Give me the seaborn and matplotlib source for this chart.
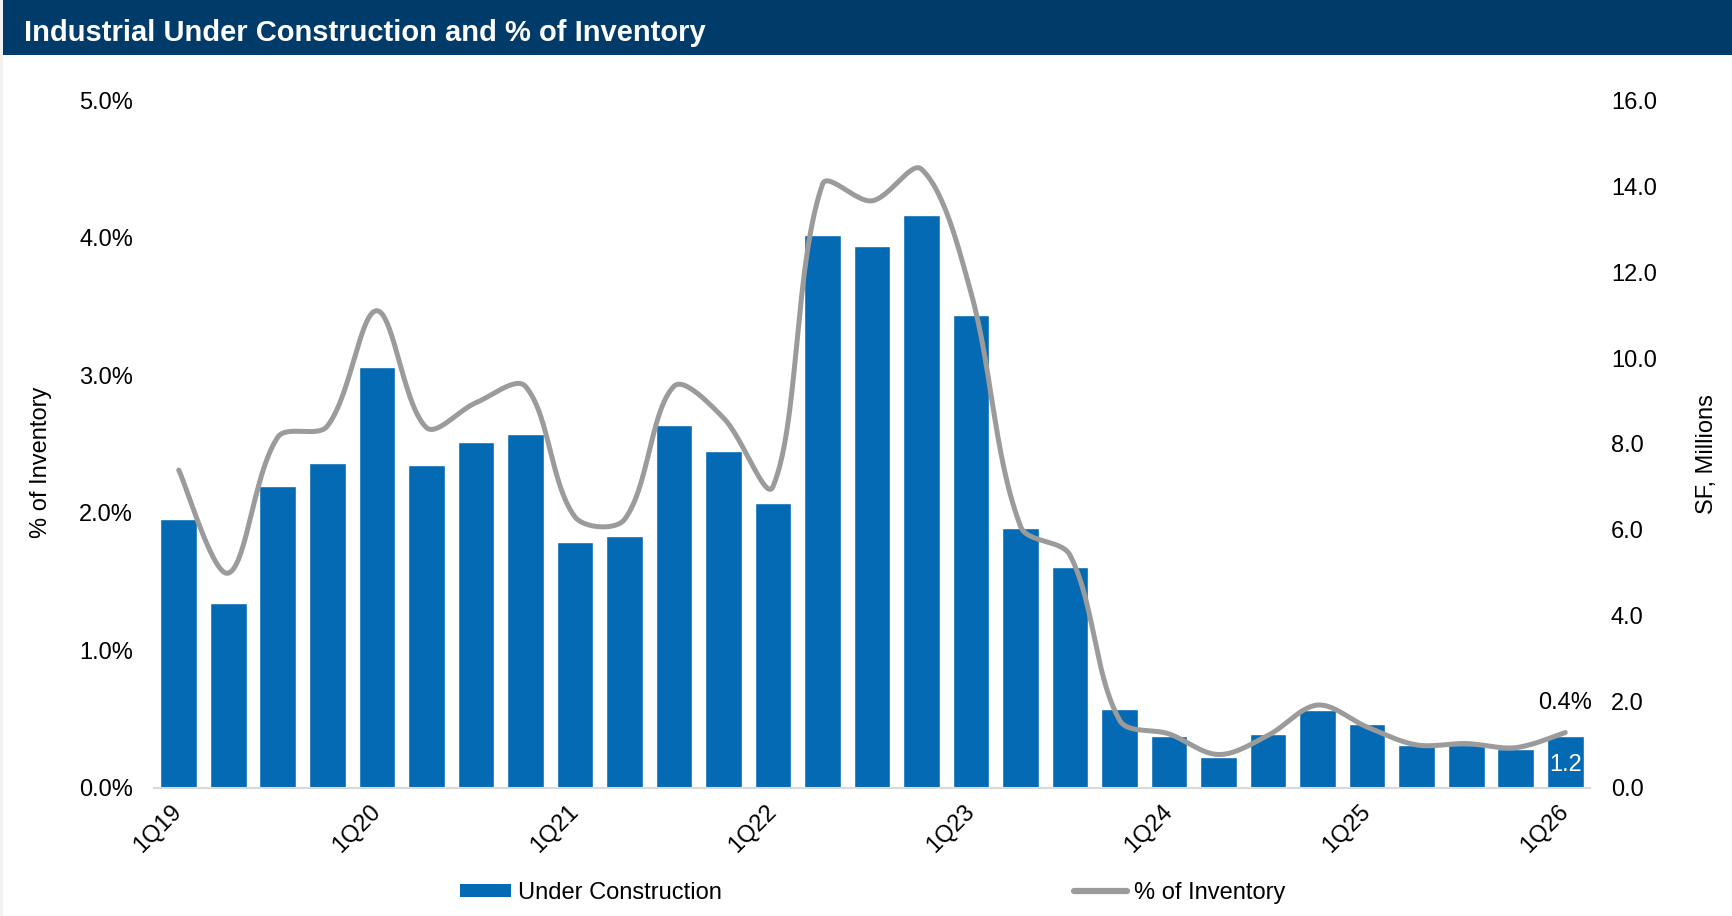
import numpy as np
import pandas as pd
import matplotlib
matplotlib.use("Agg")
import matplotlib.pyplot as plt
from matplotlib.patches import Rectangle, Patch
from matplotlib.lines import Line2D
from matplotlib.ticker import FuncFormatter
import seaborn as sns

# ---- data -------------------------------------------------------------
quarters = [
    "1Q19", "2Q19", "3Q19", "4Q19",
    "1Q20", "2Q20", "3Q20", "4Q20",
    "1Q21", "2Q21", "3Q21", "4Q21",
    "1Q22", "2Q22", "3Q22", "4Q22",
    "1Q23", "2Q23", "3Q23", "4Q23",
    "1Q24", "2Q24", "3Q24", "4Q24",
    "1Q25", "2Q25", "3Q25", "4Q25",
    "1Q26",
]
# square feet under construction, millions
under_construction_msf = [
    6.26, 4.30, 7.03, 7.56,
    9.80, 7.52, 8.05, 8.24,
    5.72, 5.86, 8.45, 7.84,
    6.63, 12.86, 12.62, 13.34,
    11.01, 6.05, 5.14, 1.83,
    1.20, 0.71, 1.25, 1.81,
    1.48, 0.99, 0.99, 0.90,
    1.20,
]
# under construction as a share of total inventory, %
pct_of_inventory = [
    2.31, 1.56, 2.55, 2.63,
    3.47, 2.62, 2.80, 2.92,
    1.97, 1.95, 2.92, 2.69,
    2.19, 4.39, 4.27, 4.50,
    3.60, 1.90, 1.69, 0.49,
    0.39, 0.24, 0.38, 0.60,
    0.44, 0.31, 0.32, 0.29,
    0.40,
]
labelled_quarters = ["1Q19", "1Q20", "1Q21", "1Q22", "1Q23", "1Q24", "1Q25", "1Q26"]

BAR_BLUE = "#046AB4"
LINE_GREY = "#9B9B9B"
HEADER_NAVY = "#003B69"
FS = 17

W, H = 1732, 916
ax_left, ax_bottom, ax_w, ax_h = 154, 787.5, 1436, 687
PCT_MAX = 5.0


def smooth_curve(values, sx, sy, steps=30):
    """Smoothed line through every point: cubic Bezier segments whose
    control handles are scaled by the neighbouring segment lengths
    (measured in pixels, sx/sy = pixels per data unit)."""
    y = np.asarray(values, dtype=float)
    n = len(y)
    P = np.column_stack([np.arange(n, dtype=float) * sx, y * sy])
    c_out = np.zeros_like(P)
    c_in = np.zeros_like(P)
    for i in range(n):
        if i == 0:
            c_out[i] = P[0] + (P[1] - P[0]) / 6.0
            continue
        if i == n - 1:
            c_in[i] = P[i] - (P[i] - P[i - 1]) / 6.0
            continue
        T = P[i + 1] - P[i - 1]
        d_prev = np.linalg.norm(P[i] - P[i - 1])
        d_next = np.linalg.norm(P[i + 1] - P[i])
        tot = d_prev + d_next
        c_out[i] = P[i] + T * (d_next / tot) / 3.0
        c_in[i] = P[i] - T * (d_prev / tot) / 3.0
    out = []
    for i in range(n - 1):
        p1, p2 = P[i], P[i + 1]
        b1, b2 = c_out[i], c_in[i + 1]
        t = np.linspace(0, 1, steps, endpoint=(i == n - 2))[:, None]
        seg = ((1 - t) ** 3) * p1 + 3 * ((1 - t) ** 2) * t * b1 \
            + 3 * (1 - t) * (t ** 2) * b2 + (t ** 3) * p2
        out.append(seg)
    curve = np.vstack(out)
    return curve[:, 0] / sx, curve[:, 1] / sy


sns.set_theme(style="white")
plt.rcParams["font.family"] = ["Liberation Sans", "DejaVu Sans"]
plt.rcParams["text.color"] = "black"
plt.rcParams["axes.labelcolor"] = "black"
plt.rcParams["xtick.color"] = "black"
plt.rcParams["ytick.color"] = "black"

fig = plt.figure(figsize=(W / 100, H / 100), dpi=100)
fig.patch.set_facecolor("white")

# header band and thin left margin strip
fig.patches.append(Rectangle((3 / W, 1 - 55 / H), 1, 55 / H, transform=fig.transFigure,
                             facecolor=HEADER_NAVY, edgecolor="none", zorder=0))
fig.patches.append(Rectangle((0, 0), 3 / W, 1, transform=fig.transFigure,
                             facecolor="#F2F2F2", edgecolor="none", zorder=0))
fig.text(24 / W, 1 - 41 / H, "Industrial Under Construction and % of Inventory",
         color="white", fontsize=21, fontweight="bold", ha="left", va="baseline")

# ---- axes -------------------------------------------------------------
ax = fig.add_axes([ax_left / W, (H - ax_bottom) / H, ax_w / W, ax_h / H])

df = pd.DataFrame({"quarter": quarters,
                   "sf": under_construction_msf,
                   "pct": pct_of_inventory})

sns.barplot(data=df, x="quarter", y="sf", color=BAR_BLUE, saturation=1,
            width=0.74, ax=ax)
ax.set_ylim(0, 16)

ax2 = ax.twinx()
cx, cy = smooth_curve(df["pct"], ax_w / len(quarters), ax_h / PCT_MAX)
sns.lineplot(x=cx, y=cy, ax=ax2, color=LINE_GREY, linewidth=3.6,
             estimator=None, sort=False, solid_capstyle="round")
ax2.set_ylim(0, PCT_MAX)
ax.set_xlim(-0.5, len(quarters) - 0.5)

# bars read on the right axis, percentage line on the left axis
ax.yaxis.tick_right()
ax.yaxis.set_label_position("right")
ax2.yaxis.tick_left()
ax2.yaxis.set_label_position("left")

ax.set_yticks(np.arange(0, 16.1, 2))
ax.yaxis.set_major_formatter(FuncFormatter(lambda v, _: f"{v:.1f}"))
ax2.set_yticks(np.arange(0, 5.01, 1))
ax2.yaxis.set_major_formatter(FuncFormatter(lambda v, _: f"{v:.1f}%"))

for a in (ax, ax2):
    a.tick_params(axis="y", length=0, labelsize=FS, pad=15, colors="black")
    a.grid(False)
    for s in a.spines.values():
        s.set_visible(False)
ax.spines["bottom"].set_visible(True)
ax.spines["bottom"].set_color("#D9D9D9")
ax.spines["bottom"].set_linewidth(1.5)

tick_pos = [quarters.index(q) for q in labelled_quarters]
ax.set_xticks(tick_pos)
ax.set_xticklabels(labelled_quarters, rotation=45, ha="right", va="center",
                   rotation_mode="anchor", fontsize=FS, color="black")
ax.tick_params(axis="x", length=0, pad=15)
ax.set_xlabel("")

ax.set_ylabel("SF, Millions", fontsize=FS, rotation=90, color="black")
ax.yaxis.label.set_verticalalignment("center")
ax.yaxis.label.set_horizontalalignment("center")
ax.yaxis.set_label_coords((1707 - ax_left) / ax_w, (ax_bottom - 454.5) / ax_h)
ax2.set_ylabel("% of Inventory", fontsize=FS, rotation=90, color="black")
ax2.yaxis.label.set_verticalalignment("center")
ax2.yaxis.label.set_horizontalalignment("center")
ax2.yaxis.set_label_coords((41 - ax_left) / ax_w, (ax_bottom - 462) / ax_h)

# value callouts for the latest quarter
last = len(quarters) - 1
ax2.annotate(f"{pct_of_inventory[last]:.1f}%", xy=(last, pct_of_inventory[last]),
             xytext=(0, 21), textcoords="offset points",
             ha="center", va="center", fontsize=FS, color="black")
ax.annotate(f"{under_construction_msf[last]:.1f}", xy=(last, under_construction_msf[last]),
            xytext=(0, -21), textcoords="offset points",
            ha="center", va="center", fontsize=FS, color="white")

# ---- legend -----------------------------------------------------------
px_font = FS * 100 / 72
fig.legend(handles=[Patch(facecolor=BAR_BLUE, edgecolor="none")],
           labels=["Under Construction"], loc="center left",
           bbox_to_anchor=(460 / W, 1 - 893 / H), frameon=False, fontsize=FS,
           handlelength=51 / px_font, handleheight=12 / px_font,
           handletextpad=7 / px_font, borderpad=0, borderaxespad=0,
           labelcolor="black")
fig.legend(handles=[Line2D([], [], color=LINE_GREY, linewidth=4.5)],
           labels=["% of Inventory"], loc="center left",
           bbox_to_anchor=(1074 / W, 1 - 893 / H), frameon=False, fontsize=FS,
           handlelength=53 / px_font, handletextpad=7 / px_font,
           borderpad=0, borderaxespad=0, labelcolor="black")

fig.savefig("out.png", dpi=100)
